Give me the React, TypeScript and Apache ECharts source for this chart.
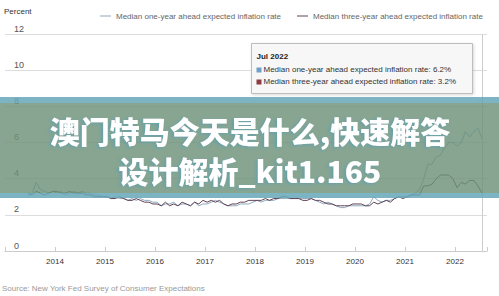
import React, { useEffect, useRef } from "react";
import * as echarts from "echarts";

const startYear = 2013;
const startMonth = 6; // June 2013
const seriesNames = [
  "Median one-year ahead expected inflation rate",
  "Median three-year ahead expected inflation rate",
];
const oneYear = [
  3.0, 3.2, 3.8, 3.4, 3.3, 3.2, 3.3,
  3.2, 3.3, 3.1, 3.2, 3.3, 3.2, 3.3, 3.2, 3.2, 3.1, 3.1, 3.0,
  3.0, 2.9, 3.0, 2.9, 2.9, 2.8, 2.9, 2.8, 2.9, 2.8, 2.8, 2.7,
  2.7, 2.5, 2.6, 2.6, 2.7, 2.5, 2.6, 2.6, 2.5, 2.7, 2.5, 2.6,
  2.6, 2.7, 2.8, 2.7, 2.6, 2.5, 2.5, 2.5, 2.6, 2.6, 2.6, 2.7,
  2.8, 2.7, 2.8, 2.8, 2.8, 2.9, 2.9, 2.9, 2.9, 2.9, 2.9, 2.9,
  2.9, 2.9, 2.8, 2.7, 2.6, 2.7, 2.6, 2.5, 2.4, 2.4, 2.5, 2.5,
  2.5, 2.5, 2.5, 2.6, 3.0, 2.8, 2.7, 2.8, 2.8, 2.9, 3.0, 3.0,
  3.0, 3.1, 3.2, 3.4, 4.0, 4.8, 4.8, 5.2, 5.3, 5.7, 6.0, 6.0,
  5.8, 6.0, 6.6, 6.3, 6.6, 6.8, 6.2,
];
const threeYear = [
  3.2, 3.1, 3.3, 3.2, 3.1, 3.2, 3.3,
  3.3, 3.2, 3.2, 3.3, 3.2, 3.2, 3.2, 3.1, 3.1, 3.0, 3.0, 3.0,
  3.0, 2.9, 2.9, 3.0, 2.9, 2.8, 2.8, 2.9, 2.8, 2.7, 2.7, 2.6,
  2.6, 2.5, 2.7, 2.5, 2.6, 2.5, 2.7, 2.6, 2.5, 2.7, 2.6, 2.8,
  2.7, 2.8, 2.7, 2.8, 2.6, 2.5, 2.6, 2.6, 2.7, 2.7, 2.8, 2.8,
  2.8, 2.8, 2.9, 2.8, 2.9, 2.9, 3.0, 3.0, 2.9, 2.9, 2.9, 2.8,
  2.8, 2.9, 2.8, 2.8, 2.7, 2.6, 2.6, 2.5, 2.5, 2.5, 2.5, 2.6,
  2.6, 2.6, 2.5, 2.5, 2.7, 2.6, 2.7, 2.8, 2.7, 2.9, 3.0, 2.9,
  3.0, 3.1, 3.1, 3.1, 3.6, 3.6, 3.7, 4.0, 4.2, 4.2, 4.2, 4.0,
  3.5, 3.8, 3.7, 3.9, 3.9, 3.6, 3.2,
];
const yTicks = { min: 0, max: 12, interval: 2 };
const xYears = { min: 2013, max: 2022.64, first: 2014, last: 2022 };
const monthNames = ["Jan", "Feb", "Mar", "Apr", "May", "Jun", "Jul", "Aug", "Sep", "Oct", "Nov", "Dec"];
const bannerLines = ["澳门特马今天是什么,快速解答", "设计解析_kit1.165"];
const sourceText = "Source: New York Fed Survey of Consumer Expectations";
const colors = ["#8ea9be", "#5f4152"];
const tipColors = ["#6e9fc6", "#8c3b3f"];

function monthPos(i: number) {
  const m = startMonth - 1 + i;
  const y = startYear + Math.floor(m / 12);
  const mm = m % 12;
  return { x: y + (mm + 0.5) / 12, label: `${monthNames[mm]} ${y}` };
}

export default function App() {
  const ref = useRef<HTMLDivElement>(null);
  useEffect(() => {
    if (!ref.current) return;
    const chart = echarts.init(ref.current, undefined, { renderer: "svg" });
    const d1 = oneYear.map((v, i) => [monthPos(i).x, v]);
    const d2 = threeYear.map((v, i) => [monthPos(i).x, v]);
    const lastIdx = oneYear.length - 1;
    const last = monthPos(lastIdx);
    const font = "Liberation Sans, Arial, sans-serif";
    const bannerText = (text: string, y: number) => ({
      type: "text",
      x: 250,
      y,
      z: 103,
      style: {
        text,
        fontSize: 30,
        fontWeight: 900,
        fill: "#fff",
        align: "center",
        verticalAlign: "middle",
        fontFamily: "Noto Sans CJK SC",
        textShadowColor: "rgba(90,160,180,0.8)",
        textShadowBlur: 3,
        textShadowOffsetX: -2,
        textShadowOffsetY: 1,
      },
    });
    const teal = "rgba(102,167,184,0.85)";
    chart.setOption({
      animation: false,
      textStyle: { fontFamily: font },
      grid: { left: 5, right: 12, top: 34, bottom: 45, containLabel: false },
      legend: {
        left: 95,
        top: 7,
        itemGap: 16,
        itemWidth: 11,
        itemHeight: 1,
        icon: "rect",
        textStyle: { fontSize: 8, color: "#666", fontFamily: font },
        data: seriesNames,
      },
      xAxis: {
        type: "value",
        min: xYears.min,
        max: xYears.max,
        interval: 1,
        splitLine: { show: false },
        axisLine: { lineStyle: { color: "#ccc" } },
        axisTick: { inside: true, length: 4, lineStyle: { color: "#ccc" } },
        axisLabel: {
          fontSize: 8,
          color: "#333",
          margin: 6,
          formatter: (v: number) => (v >= xYears.first && v <= xYears.last ? String(Math.round(v)) : ""),
        },
      },
      yAxis: {
        type: "value",
        min: yTicks.min,
        max: yTicks.max,
        interval: yTicks.interval,
        axisLine: { show: false },
        axisTick: { show: false },
        splitLine: { lineStyle: { color: "#ddd" } },
        axisLabel: {
          inside: true,
          margin: 9,
          fontSize: 9,
          color: "#555",
          verticalAlign: "bottom",
          padding: [0, 0, 1, 0],
        },
      },
      series: [
        {
          name: seriesNames[0],
          type: "line",
          data: d1,
          showSymbol: false,
          lineStyle: { width: 1, color: colors[0] },
          itemStyle: { color: colors[0] },
          z: 2,
          markLine: {
            silent: true,
            symbol: "none",
            label: { show: false },
            lineStyle: { color: "#ccc", width: 1, type: "solid" },
            data: [{ xAxis: last.x }],
          },
        },
        {
          name: seriesNames[1],
          type: "line",
          data: d2,
          showSymbol: false,
          lineStyle: { width: 1, color: colors[1] },
          itemStyle: { color: colors[1] },
          z: 3,
        },
      ],
      graphic: [
        {
          type: "text",
          left: 4,
          top: 7,
          style: { text: "Percent", fontSize: 8, fill: "#333", fontFamily: font },
        },
        {
          type: "text",
          left: 2,
          top: 284,
          style: { text: sourceText, fontSize: 8, fill: "#999", fontFamily: font },
        },
        {
          type: "group",
          left: 251,
          top: 43,
          z: 50,
          children: [
            {
              type: "rect",
              z: 50,
              shape: { x: 0, y: 0, width: 221, height: 50 },
              style: { fill: "#f7f7f7", stroke: "#bdbdbd", lineWidth: 1, shadowColor: "rgba(0,0,0,0.15)", shadowBlur: 3, shadowOffsetX: 1, shadowOffsetY: 1 },
            },
            {
              type: "text",
              z: 51,
              x: 5,
              y: 9,
              style: { text: last.label, fontSize: 8, fontWeight: "bold", fill: "#222", fontFamily: font },
            },
            { type: "rect", z: 51, shape: { x: 5, y: 24, width: 5, height: 5 }, style: { fill: tipColors[0] } },
            {
              type: "text",
              z: 51,
              x: 12,
              y: 22,
              style: { text: `${seriesNames[0]}: ${oneYear[lastIdx].toFixed(1)}%`, fontSize: 8, fill: "#333", fontFamily: font },
            },
            { type: "rect", z: 51, shape: { x: 5, y: 36, width: 5, height: 5 }, style: { fill: tipColors[1] } },
            {
              type: "text",
              z: 51,
              x: 12,
              y: 34,
              style: { text: `${seriesNames[1]}: ${threeYear[lastIdx].toFixed(1)}%`, fontSize: 8, fill: "#333", fontFamily: font },
            },
          ],
        },
        {
          type: "group",
          left: 0,
          top: 97,
          z: 100,
          children: [
            { type: "rect", z: 100, shape: { x: 0, y: 0, width: 499, height: 6 }, style: { fill: teal } },
            { type: "rect", z: 100, shape: { x: 0, y: 96, width: 499, height: 5 }, style: { fill: teal } },
            { type: "rect", z: 101, shape: { x: 0, y: 6, width: 499, height: 90 }, style: { fill: "rgba(109,145,121,0.82)" } },
            bannerText(bannerLines[0], 33),
            bannerText(bannerLines[1], 73),
          ],
        },
      ],
    });
    return () => chart.dispose();
  }, []);
  return <div ref={ref} style={{ width: 499, height: 296, position: "absolute", left: 0, top: 0, background: "#fff" }} />;
}
